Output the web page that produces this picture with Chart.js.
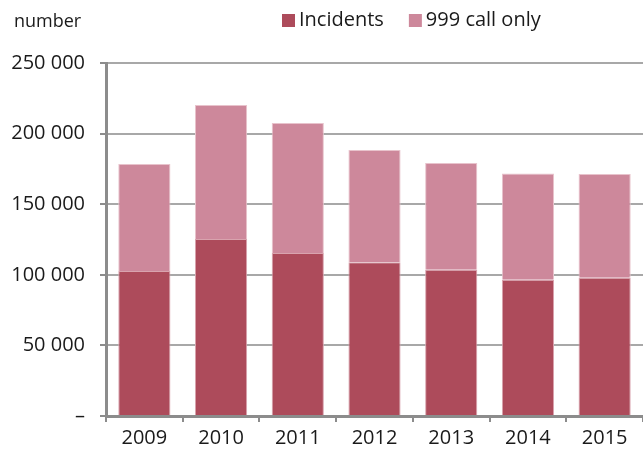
<!DOCTYPE html>
<html>
<head>
<meta charset="utf-8">
<script src="https://cdn.jsdelivr.net/npm/chart.js@4.4.1/dist/chart.umd.min.js"></script>
<style>
  html, body { margin: 0; padding: 0; background: #ffffff; }
  #wrap { width: 643px; height: 454px; position: relative; }
</style>
</head>
<body>
<div id="wrap"><canvas id="chart"></canvas></div>
<script>
  const years = ["2009", "2010", "2011", "2012", "2013", "2014", "2015"];
  const incidents = [102700, 125400, 115400, 108800, 103600, 96500, 97900];
  const callOnly = [75800, 94900, 92100, 79600, 75600, 75300, 73500];
  const yTicks = [0, 50000, 100000, 150000, 200000, 250000];

  const FONT = "'Open Sans', 'Noto Sans', sans-serif";
  const TEXT = "#1a1a1a";
  const AXIS = "#8c8c8c";

  function formatTick(value) {
    if (value === 0) {
      return "–";
    }
    return String(value).replace(/\B(?=(\d{3})+(?!\d))/g, " ");
  }

  // unit label + legend drawn above the plot
  const headerPlugin = {
    id: "header",
    afterDraw(chart) {
      const ctx = chart.ctx;
      ctx.save();
      ctx.fillStyle = TEXT;
      ctx.textBaseline = "middle";
      ctx.textAlign = "left";
      ctx.font = "18px " + FONT;
      ctx.fillText("number", 14, 22);

      ctx.font = "20px " + FONT;
      let x = 282;
      chart.data.datasets.forEach((ds) => {
        ctx.fillStyle = ds.backgroundColor;
        ctx.fillRect(x, 14, 13, 13);
        ctx.fillStyle = TEXT;
        ctx.fillText(ds.label, x + 17, 20);
        x += 17 + ctx.measureText(ds.label).width + 25;
      });
      ctx.restore();
    }
  };

  new Chart(document.getElementById("chart"), {
    type: "bar",
    data: {
      labels: years,
      datasets: [
        {
          label: "Incidents",
          data: incidents,
          backgroundColor: "#ad4b5b",
          borderColor: "#d9a3ae",
          borderWidth: { top: 1, left: 1, right: 1, bottom: 0 },
          borderSkipped: "bottom",
          barPercentage: 0.68,
          categoryPercentage: 1
        },
        {
          label: "999 call only",
          data: callOnly,
          backgroundColor: "#cd889b",
          borderColor: "#e8c3cc",
          borderWidth: { top: 1, left: 1, right: 1, bottom: 0 },
          borderSkipped: "bottom",
          barPercentage: 0.68,
          categoryPercentage: 1
        }
      ]
    },
    options: {
      responsive: true,
      maintainAspectRatio: false,
      animation: false,
      layout: {
        padding: { top: 63, right: 0, bottom: 0, left: 0 }
      },
      plugins: {
        legend: { display: false },
        tooltip: { enabled: false }
      },
      scales: {
        x: {
          stacked: true,
          border: { color: AXIS, width: 3 },
          grid: {
            drawOnChartArea: false,
            drawTicks: true,
            tickLength: 6,
            color: AXIS,
            lineWidth: 2
          },
          ticks: {
            color: TEXT,
            font: { family: FONT, size: 20 },
            padding: 4
          },
          afterFit(scale) {
            scale.height = 38;
          }
        },
        y: {
          stacked: true,
          min: 0,
          max: 250000,
          afterBuildTicks(scale) {
            scale.ticks = yTicks.map((v) => ({ value: v }));
          },
          border: { color: AXIS, width: 3 },
          grid: {
            color: "#a8a8a8",
            lineWidth: 2,
            tickLength: 6,
            tickColor: AXIS
          },
          ticks: {
            color: TEXT,
            font: { family: FONT, size: 20 },
            padding: 15,
            callback: formatTick
          },
          afterFit(scale) {
            scale.width = 106;
          }
        }
      }
    },
    plugins: [headerPlugin]
  });
</script>
</body>
</html>
